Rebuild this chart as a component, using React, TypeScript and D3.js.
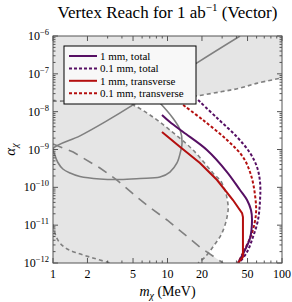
import * as d3 from 'd3';

type Pt = [number, number];

// reach curves (m in MeV, alpha)
const total1mm: Pt[] = [
  [8.95, 8.17e-9], [10.5, 5.33e-9], [13.7, 2.9e-9], [22.1, 9.7e-10], [33.1, 2.54e-10],
  [43.0, 8.5e-11], [49.5, 4.62e-11], [53.6, 2.51e-11], [54.7, 1.37e-11], [52.6, 4.57e-12],
  [47.5, 2.2e-12], [41.3, 1e-12],
];
const total01mm: Pt[] = [
  [18.5, 2.03e-8], [27.1, 6.79e-9], [40.5, 2.14e-9], [52.6, 8.07e-10], [60.5, 3.44e-10],
  [64.3, 1.38e-10], [64.3, 4.62e-11], [61.7, 1.37e-11], [55.8, 4.86e-12], [49.5, 1.95e-12],
  [42.1, 1e-12],
];
const trans1mm: Pt[] = [
  [8.95, 2.9e-9], [12.9, 1.16e-9], [19.2, 4.4e-10], [27.1, 1.56e-10], [37.3, 4.62e-11],
  [44.8, 2.09e-11], [45.6, 1.64e-11], [45.6, 1.44e-12], [41.3, 1e-12],
];
const trans01mm: Pt[] = [
  [13.7, 1.5e-8], [20.4, 6.03e-9], [33.1, 1.78e-9], [45.6, 6.34e-10], [53.6, 2.12e-10],
  [58.1, 6.27e-11], [59.3, 2.09e-11], [54.7, 6.19e-12], [45.6, 1.84e-12], [41.3, 1e-12],
];

// existing constraints (gray)
const upperDashed: Pt[] = [
  [1, 1.9e-8], [3, 1.95e-8], [5, 2.0e-8], [10, 2.2e-8], [17.7, 2.6e-8], [30, 3.4e-8],
  [43, 4.2e-8], [60, 5.6e-8], [100, 7.8e-8],
];
const beamDashed: Pt[] = [
  [3.7, 2.0e-8], [5.0, 1.5e-8], [7.03, 8.17e-9], [10.5, 3.27e-9], [16.7, 9.7e-10],
  [24.9, 2.39e-10], [29.9, 1.3e-10], [33.8, 3.41e-11], [33.1, 1.64e-11], [29.9, 6.19e-12],
  [24.9, 2.64e-12], [21.3, 1.44e-12], [18.5, 1e-12],
];
const solidContour: Pt[] = [
  [43.0, 1e-6], [18.1, 1.95e-7], [5.0, 1.51e-8], [2.85, 5.37e-9], [1.72, 2.29e-9],
  [1.0, 1.05e-9], [1.03, 7.6e-10], [1.1, 4.6e-10], [1.22, 3.05e-10],
  [1.41, 2.39e-10], [1.72, 1.93e-10], [2.57, 1.66e-10], [3.85, 1.61e-10], [5.75, 1.71e-10],
  [8.6, 1.87e-10], [10.5, 2.54e-10], [12.1, 4.4e-10], [13.1, 9.7e-10], [13.4, 1.49e-9],
  [12.9, 3.27e-9], [10.95, 7.23e-9], [8.6, 1.69e-8], [7.03, 3.11e-8],
];
const longDashed: Pt[] = [
  [1.0, 1.4e-9], [1.5, 8.59e-10], [2.57, 3.24e-10], [3.62, 1.56e-10], [5.41, 5.55e-11],
  [6.76, 3.21e-11], [9.9, 1.37e-11], [19.2, 2.64e-12], [30.5, 1e-12],
];
const lowDashed: Pt[] = [
  [1.0, 1.05e-11], [1.06, 5.16e-12], [1.15, 3.37e-12], [1.33, 2.34e-12], [1.62, 1.84e-12],
  [2.23, 1.36e-12], [3.15, 1e-12],
];

const massTicks = [1, 2, 5, 10, 20, 50, 100];
const alphaExps = [-6, -7, -8, -9, -10, -11, -12];

const legendItems = [
  { label: '1 mm, total', color: '#560f63', dash: '' },
  { label: '0.1 mm, total', color: '#560f63', dash: '3,2' },
  { label: '1 mm, transverse', color: '#b40f0f', dash: '' },
  { label: '0.1 mm, transverse', color: '#b40f0f', dash: '3,2' },
];

const W = 292;
const H = 302;
const margin = { left: 53, right: 10, top: 36, bottom: 39 };
const FONT = '"Liberation Serif", "Times New Roman", serif';

export default function App() {
  const x = d3.scaleLog().domain([1, 100]).range([margin.left, W - margin.right]);
  const y = d3.scaleLog().domain([1e-12, 1e-6]).range([H - margin.bottom, margin.top]);
  const [x0, x1] = x.range();
  const [y0, y1] = [y(1e-12), y(1e-6)];

  const smooth = d3.line<Pt>().x((d) => x(d[0])).y((d) => y(d[1])).curve(d3.curveCatmullRom.alpha(0.5));
  const straight = d3.line<Pt>().x((d) => x(d[0])).y((d) => y(d[1]));

  // gray excluded regions
  const regionA: Pt[] = [...upperDashed, [100, 1e-6], [1, 1e-6]];
  const regionB: Pt[] = [[1, 1e-6], ...beamDashed, [1, 1e-12]];
  const regionC: Pt[] = [...longDashed, [1, 1e-12]];

  const minorX: number[] = [];
  [1, 10].forEach((d) => [3, 4, 6, 7, 8, 9].forEach((k) => minorX.push(d * k)));
  const minorY: number[] = [];
  alphaExps.slice(1).forEach((e) => [2, 3, 4, 5, 6, 7, 8, 9].forEach((k) => minorY.push(k * Math.pow(10, e))));

  const gray = '#808080';
  const frame = '#555';

  return (
    <svg width={W} height={H} style={{ position: 'absolute', left: 0, top: 0 }} fontFamily={FONT}>
      <defs>
        <clipPath id="plot">
          <rect x={x0} y={y1} width={x1 - x0} height={y0 - y1} />
        </clipPath>
      </defs>
      <rect width={W} height={H} fill="white" />

      <text x={(x0 + x1) / 2} y={18} textAnchor="middle" fontSize={17} fontFamily={FONT}>
        Vertex Reach for 1 ab<tspan dy={-7} fontSize={11}>−1</tspan>
        <tspan dy={7}> (Vector)</tspan>
      </text>

      <g clipPath="url(#plot)">
        <rect x={x0} y={y1} width={x1 - x0} height={y0 - y1} fill="white" />
        {[regionA, regionB, regionC].map((r, i) => (
          <path key={i} d={straight(r) + 'Z'} fill="#e5e5e5" stroke="none" />
        ))}
        {/* constraint outlines */}
        <path d={smooth(upperDashed) ?? ''} fill="none" stroke={gray} strokeWidth={1.6} strokeDasharray="4,3" />
        <path d={smooth(beamDashed) ?? ''} fill="none" stroke={gray} strokeWidth={1.6} strokeDasharray="4,3" />
        <path d={smooth(solidContour) ?? ''} fill="none" stroke={gray} strokeWidth={1.6} />
        <path d={straight(longDashed) ?? ''} fill="none" stroke={gray} strokeWidth={1.6} strokeDasharray="10,7" />
        <path d={smooth(lowDashed) ?? ''} fill="none" stroke={gray} strokeWidth={1.6} strokeDasharray="4,3" />

        {/* reach curves */}
        <path d={smooth(total01mm) ?? ''} fill="none" stroke="#560f63" strokeWidth={2} strokeDasharray="3,2" />
        <path d={smooth(trans01mm) ?? ''} fill="none" stroke="#b40f0f" strokeWidth={2} strokeDasharray="3,2" />
        <path d={smooth(total1mm) ?? ''} fill="none" stroke="#560f63" strokeWidth={2} />
        <path d={straight(trans1mm) ?? ''} fill="none" stroke="#b40f0f" strokeWidth={2} />
      </g>

      {/* frame and ticks */}
      <rect x={x0} y={y1} width={x1 - x0} height={y0 - y1} fill="none" stroke={frame} strokeWidth={1} />
      {massTicks.map((t) => (
        <g key={'mx' + t}>
          <line x1={x(t)} x2={x(t)} y1={y0} y2={y0 - 5} stroke={frame} />
          <line x1={x(t)} x2={x(t)} y1={y1} y2={y1 + 5} stroke={frame} />
          <text x={x(t)} y={y0 + 15} textAnchor="middle" fontSize={12} fontFamily={FONT}>{t}</text>
        </g>
      ))}
      {minorX.map((t) => (
        <g key={'nx' + t}>
          <line x1={x(t)} x2={x(t)} y1={y0} y2={y0 - 2.5} stroke={frame} />
          <line x1={x(t)} x2={x(t)} y1={y1} y2={y1 + 2.5} stroke={frame} />
        </g>
      ))}
      {alphaExps.map((e) => {
        const v = Math.pow(10, e);
        return (
          <g key={'my' + e}>
            <line x1={x0} x2={x0 + 5} y1={y(v)} y2={y(v)} stroke={frame} />
            <line x1={x1} x2={x1 - 5} y1={y(v)} y2={y(v)} stroke={frame} />
            <text x={x0 - 4} y={y(v) + 4} textAnchor="end" fontSize={12} fontFamily={FONT}>
              10<tspan dy={-5} fontSize={8.5}>{'−' + Math.abs(e)}</tspan>
            </text>
          </g>
        );
      })}
      {minorY.map((v, i) => (
        <g key={'ny' + i}>
          <line x1={x0} x2={x0 + 2.5} y1={y(v)} y2={y(v)} stroke={frame} />
          <line x1={x1} x2={x1 - 2.5} y1={y(v)} y2={y(v)} stroke={frame} />
        </g>
      ))}

      {/* axis labels */}
      <text x={(x0 + x1) / 2} y={296} textAnchor="middle" fontSize={14} fontFamily={FONT}>
        <tspan fontStyle="italic">m</tspan>
        <tspan fontStyle="italic" fontSize={10} dy={3}>χ</tspan>
        <tspan dy={-3}> (MeV)</tspan>
      </text>
      <text transform={`translate(15,${(y0 + y1) / 2}) rotate(-90)`} textAnchor="middle" fontSize={15} fontFamily={FONT}>
        <tspan fontStyle="italic">α</tspan>
        <tspan fontStyle="italic" fontSize={10} dy={3}>χ</tspan>
      </text>

      {/* legend */}
      <g>
        <rect x={64} y={46} width={132} height={58} fill="#f8f8f8" stroke="black" strokeWidth={1} />
        {legendItems.map((it, i) => (
          <g key={it.label} transform={`translate(0,${56 + i * 12.4})`}>
            <line x1={69} x2={97} y1={0} y2={0} stroke={it.color} strokeWidth={2} strokeDasharray={it.dash || undefined} />
            <text x={100} y={4} fontSize={11} fontFamily={FONT}>{it.label}</text>
          </g>
        ))}
      </g>
    </svg>
  );
}
